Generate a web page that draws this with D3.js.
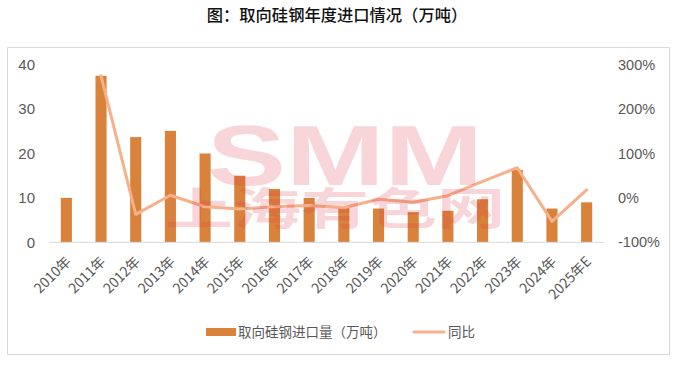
<!DOCTYPE html>
<html>
<head>
<meta charset="utf-8">
<script src="https://cdn.jsdelivr.net/npm/d3@7"></script>
<style>
  body { margin: 0; background: #fff; }
  svg { display: block; font-family: "Noto Sans CJK SC", "Noto Sans", sans-serif; }
</style>
</head>
<body>
<svg id="chart" width="680" height="366"></svg>
<script>
// ****** Data
var years = ["2010年", "2011年", "2012年", "2013年", "2014年", "2015年", "2016年", "2017年",
	"2018年", "2019年", "2020年", "2021年", "2022年", "2023年", "2024年", "2025年E"];
var imports = [10, 37.5, 23.7, 25.1, 20.0, 15.0, 12.0, 10.0, 7.8, 7.6, 6.8, 7.1, 9.7, 16.3, 7.6, 9.0];
var yoy = [null, 275, -37, 6, -20, -25, -20, -17, -22, -3, -10, 5, 37, 68, -53, 18];
var leftTicks = [0, 10, 20, 30, 40];
var rightTicks = [-100, 0, 100, 200, 300];

var barColor = '#d9823b';
var lineColor = '#f6b08a';
var textColor = '#595959';

// ****** Layout
var svg = d3.select('#chart');
var plot = { left: 49, right: 604, top: 64.7, bottom: 242.3 };

var x = d3.scaleBand().domain(years).range([plot.left, plot.right]).paddingInner(0.68).paddingOuter(0.34);
var yL = d3.scaleLinear().domain([0, 40]).range([plot.bottom, plot.top]);
var yR = d3.scaleLinear().domain([-100, 300]).range([plot.bottom, plot.top]);

// outer frame
svg.append('rect')
	.attr('x', 7.5).attr('y', 47.5)
	.attr('width', 662).attr('height', 307)
	.attr('fill', 'none').attr('stroke', '#d9d9d9');

// title
svg.append('text')
	.attr('x', 337).attr('y', 21)
	.attr('text-anchor', 'middle')
	.style('font-size', '16.3px').style('font-weight', 500)
	.attr('fill', '#111')
	.text('图：取向硅钢年度进口情况（万吨）');

// bars
svg.append('g').selectAll('rect')
	.data(imports)
	.join('rect')
	.attr('x', function(d, i) { return x(years[i]); })
	.attr('y', function(d) { return yL(d); })
	.attr('width', x.bandwidth())
	.attr('height', function(d) { return yL(0) - yL(d); })
	.attr('fill', barColor);

// baseline
svg.append('line')
	.attr('x1', plot.left).attr('x2', plot.right)
	.attr('y1', yL(0)).attr('y2', yL(0))
	.attr('stroke', '#d9d9d9').attr('stroke-width', 1);

// yoy line
var line = d3.line()
	.defined(function(d) { return d != null; })
	.x(function(d, i) { return x(years[i]) + x.bandwidth() / 2; })
	.y(function(d) { return yR(d); });
svg.append('path')
	.datum(yoy)
	.attr('d', line)
	.attr('fill', 'none')
	.attr('stroke', lineColor)
	.attr('stroke-width', 3)
	.attr('stroke-linejoin', 'round')
	.attr('stroke-linecap', 'round');

// left axis
var axL = svg.append('g')
	.attr('transform', 'translate(' + (plot.left - 14) + ',0)')
	.call(d3.axisLeft(yL).tickValues(leftTicks).tickSize(0).tickPadding(0));
axL.select('.domain').remove();
axL.selectAll('text').attr('fill', textColor).style('font-size', '15px');

// right axis
var axR = svg.append('g')
	.attr('transform', 'translate(' + (plot.right + 14) + ',0)')
	.call(d3.axisRight(yR).tickValues(rightTicks).tickSize(0).tickPadding(0)
		.tickFormat(function(d) { return d + '%'; }));
axR.select('.domain').remove();
axR.selectAll('text').attr('fill', textColor).style('font-size', '14.5px');

// x labels
svg.append('g').selectAll('text')
	.data(years)
	.join('text')
	.attr('transform', function(d) {
		return 'translate(' + (x(d) + x.bandwidth() / 2 + 2) + ',' + 259 + ') rotate(-45)';
	})
	.attr('text-anchor', 'end')
	.attr('dy', '0.35em')
	.attr('fill', textColor)
	.style('font-size', '14px')
	.text(function(d) { return d; });

// legend
var legend = svg.append('g');
legend.append('rect')
	.attr('x', 206).attr('y', 328).attr('width', 30).attr('height', 8)
	.attr('fill', barColor);
legend.append('text')
	.attr('x', 238).attr('y', 332).attr('dy', '0.35em')
	.attr('fill', textColor).style('font-size', '13.5px')
	.text('取向硅钢进口量（万吨）');
legend.append('line')
	.attr('x1', 414).attr('x2', 444).attr('y1', 332).attr('y2', 332)
	.attr('stroke', lineColor).attr('stroke-width', 3).attr('stroke-linecap', 'round');
legend.append('text')
	.attr('x', 448).attr('y', 332).attr('dy', '0.35em')
	.attr('fill', textColor).style('font-size', '13.5px')
	.text('同比');

// watermark (one text, two lines)
var wm = svg.append('text').attr('fill', 'rgb(222,60,75)').attr('opacity', 0.21)
	.style('pointer-events', 'none').style('font-weight', 'bold');
wm.append('tspan')
	.attr('x', 207).attr('y', 185)
	.attr('textLength', 276).attr('lengthAdjust', 'spacingAndGlyphs')
	.style('font-family', '"Liberation Sans", Arial, sans-serif')
	.style('font-size', '86px')
	.text('SMM');
wm.append('tspan')
	.attr('x', 165).attr('y', 225)
	.attr('textLength', 340).attr('lengthAdjust', 'spacingAndGlyphs')
	.style('font-size', '44px')
	.text('上海有色网');
</script>
</body>
</html>
